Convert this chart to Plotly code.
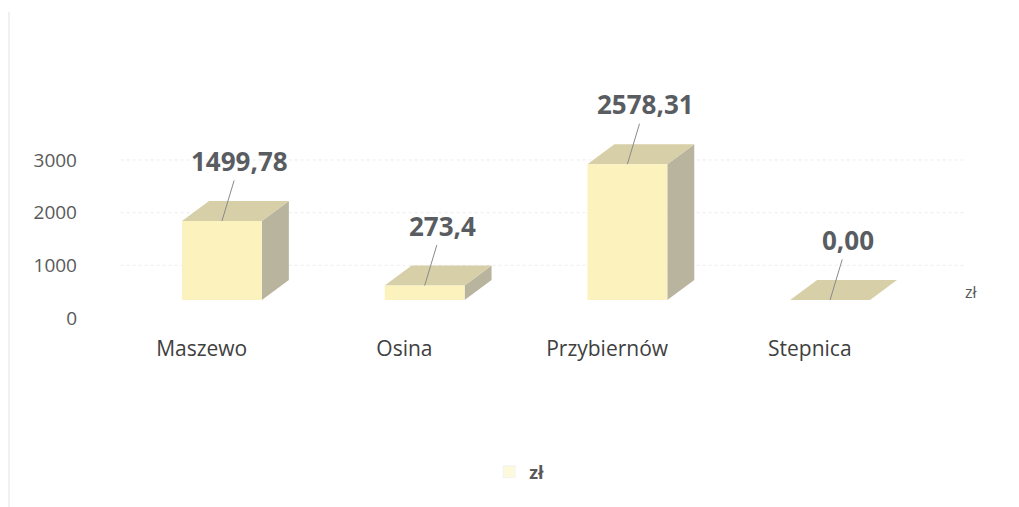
import plotly.graph_objects as go

categories = ["Maszewo", "Osina", "Przybiernów", "Stepnica"]
values = [1499.78, 273.4, 2578.31, 0.00]
value_labels = ["1499,78", "273,4", "2578,31", "0,00"]
y_ticks = [0, 1000, 2000, 3000]
series_name = "zł"

# geometry (3D look)
HALF = 0.197      # half width of front face (x units)
DX = 0.133        # depth offset in x units
DY = 380          # depth offset in value units

FRONT = "#fcf2be"
TOP = "#d7cfa7"
SIDE = "#b8b49e"

fig = go.Figure()

for i, v in enumerate(values):
    x0, x1 = i - HALF, i + HALF
    # side face
    fig.add_trace(go.Scatter(
        x=[x1, x1 + DX, x1 + DX, x1, x1], y=[0, DY, v + DY, v, 0],
        mode="lines", line=dict(width=0), fill="toself", fillcolor=SIDE,
        yaxis="y2", hoverinfo="skip", showlegend=False))
    # top face
    fig.add_trace(go.Scatter(
        x=[x0, x1, x1 + DX, x0 + DX, x0], y=[v, v, v + DY, v + DY, v],
        mode="lines", line=dict(width=0), fill="toself", fillcolor=TOP,
        yaxis="y2", hoverinfo="skip", showlegend=False))
    # front face
    if v > 0:
        fig.add_trace(go.Scatter(
            x=[x0, x1, x1, x0, x0], y=[0, 0, v, v, 0],
            mode="lines", line=dict(width=0), fill="toself", fillcolor=FRONT,
            yaxis="y2", hoverinfo="skip", showlegend=False))
    fig.add_annotation(
        x=i, y=v, xref="x", yref="y2", text=value_labels[i],
        showarrow=True, arrowhead=0, arrowwidth=1, arrowcolor="#8a8a8a",
        ax=18, ay=-60,
        font=dict(family="Open Sans", size=26, color="#595d61", weight="bold"))

# legend dummy
fig.add_trace(go.Bar(x=[None], y=[None], name=series_name,
                     marker=dict(color="#fcf9dc"), showlegend=True))

# faint gridlines
for t in y_ticks[1:]:
    fig.add_shape(type="line", xref="x", yref="y", x0=-0.5, x1=3.67, y0=t, y1=t,
                  line=dict(color="#ececec", width=1, dash="dot"), layer="below")

# depth axis title
fig.add_annotation(x=3.70, y=494, xref="x", yref="y", text=series_name, showarrow=False,
                   font=dict(family="Open Sans", size=16, color="#595959"))

# faint left border
fig.add_shape(type="line", xref="paper", yref="paper",
              x0=-0.0872, x1=-0.0872, y0=1.026, y1=-0.571,
              line=dict(color="#e2e2e2", width=1))

fig.update_layout(
    width=1011, height=499,
    margin=dict(l=82, r=0, t=12, b=177),
    paper_bgcolor="white", plot_bgcolor="white",
    showlegend=True,
    legend=dict(orientation="h", x=0.462, xanchor="center", y=-0.458, yanchor="middle",
                font=dict(family="Open Sans", size=18, color="#595959", weight="bold"),
                itemwidth=30),
    xaxis=dict(range=[-0.651, 3.932], tickvals=[i - 0.1 for i in range(len(categories))],
               ticktext=categories, showgrid=False, zeroline=False, showline=False,
               ticks="", ticklabelstandoff=4,
               tickfont=dict(family="Open Sans", size=21, color="#404040")),
    yaxis=dict(range=[-228, 5658], tickvals=y_ticks, ticktext=[str(t) for t in y_ticks],
               showgrid=False, zeroline=False, showline=False, ticks="",
               ticklabelstandoff=12,
               tickfont=dict(family="Open Sans", size=19, color="#595959")),
    yaxis2=dict(range=[-570, 5316], overlaying="y", visible=False),
)

fig.write_html("out.html")
